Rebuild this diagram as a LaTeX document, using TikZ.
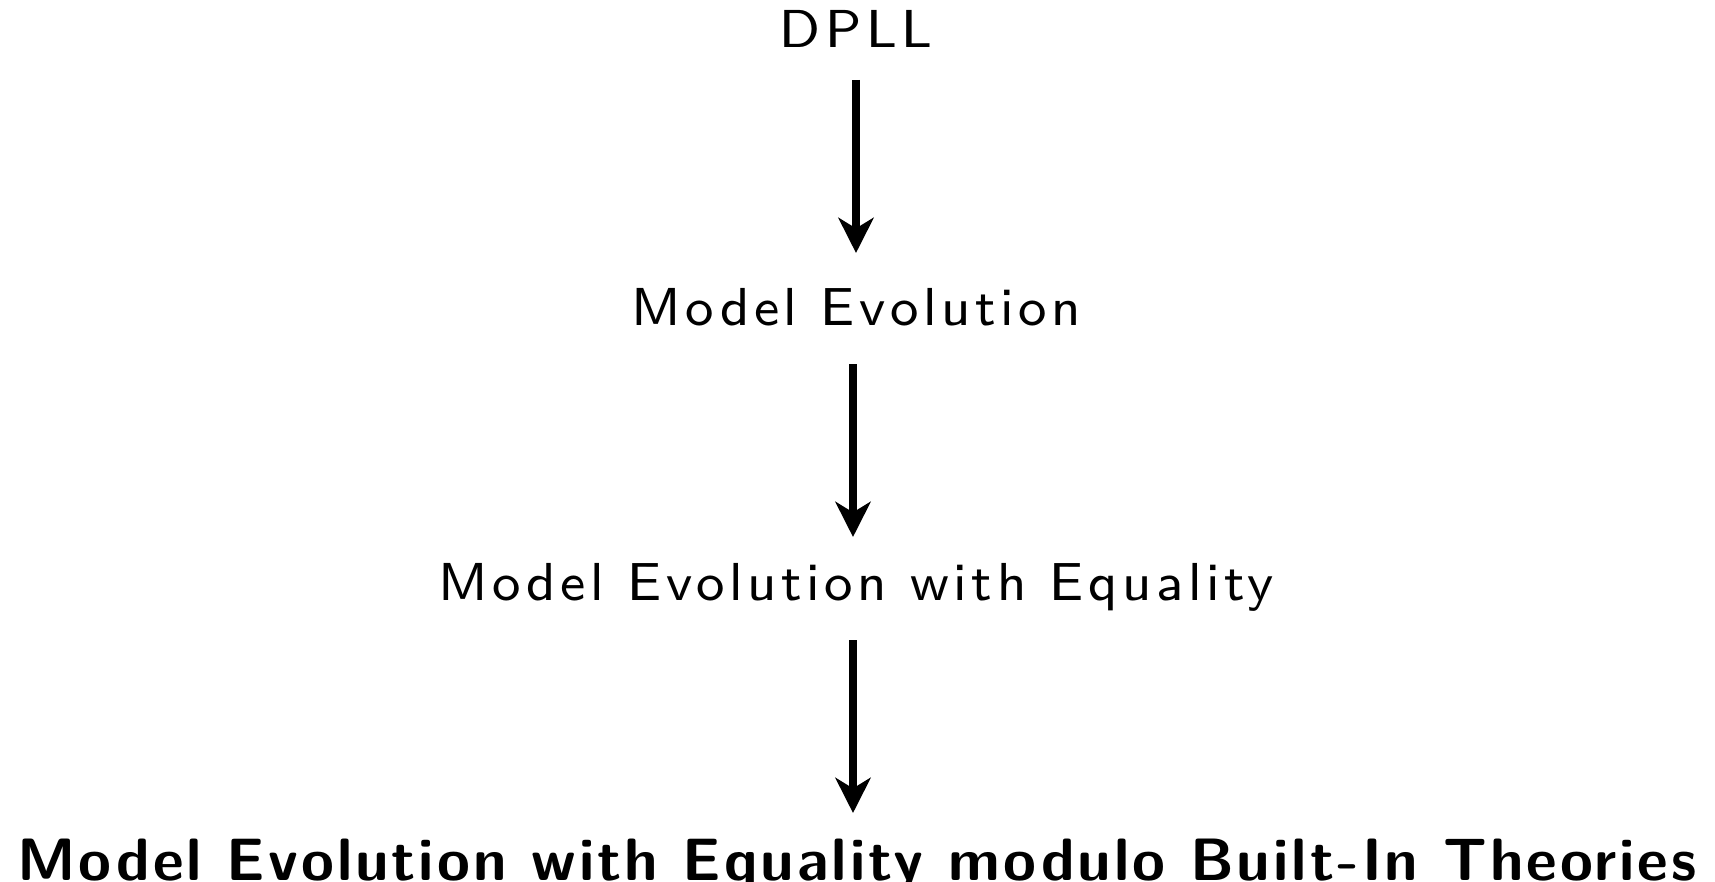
\documentclass[tikz,border=0pt]{standalone}
\usepackage{fontspec}
\usetikzlibrary{arrows.meta}
% small optical size of Latin Modern Sans, letter-spaced
\newfontfamily\spacedsans[LetterSpace=8.5]{lmsans8-regular.otf}
\newfontfamily\spacedsansbold[LetterSpace=5]{Latin Modern Sans}
\begin{document}
\begin{tikzpicture}[x=0.01cm,y=-0.01cm,
  label/.style={anchor=base,inner sep=0pt,font=\spacedsans\fontsize{15.2}{18}\selectfont},
  toplabel/.style={label,font=\spacedsansbold\bfseries\fontsize{17}{20}\selectfont},
  flow/.style={line width=2.3pt,-{Stealth[length=10pt,width=10pt,inset=3pt]}}]
\useasboundingbox (0,0) rectangle (1715,882);
\node[label] (dpll) at (856,48) {DPLL};
\node[label] (me) at (856,325) {Model Evolution};
\node[label] (mee) at (856,600) {Model Evolution with Equality};
\node[toplabel] (meet) at (857,880) {Model Evolution with Equality modulo Built-In Theories};
\coordinate (a1s) at (856,80);  \coordinate (a1e) at (856,253);
\coordinate (a2s) at (853,364); \coordinate (a2e) at (853,537);
\coordinate (a3s) at (853,640); \coordinate (a3e) at (853,813);
\draw[flow] (a1s) -- (a1e);
\draw[flow] (a2s) -- (a2e);
\draw[flow] (a3s) -- (a3e);
\end{tikzpicture}
\end{document}
